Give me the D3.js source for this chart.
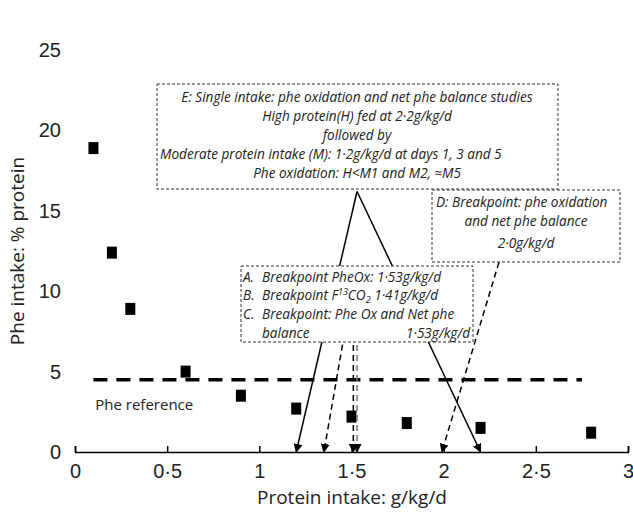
<!DOCTYPE html>
<meta charset="utf-8">
<script src="https://d3js.org/d3.v7.min.js"></script>
<style>
body { margin:0; background:#fff; font-family: "Open Sans", "Liberation Sans", sans-serif; }
.box text { font-style: italic; font-size: 13.6px; fill: #222; }
.axis text { font-size: 20px; }
</style>
<body></body>
<script>
var protein = [0.1, 0.2, 0.3, 0.6, 0.9, 1.2, 1.5, 1.8, 2.2, 2.8];
var pheIntake = [18.9, 12.4, 8.9, 5.0, 3.5, 2.7, 2.2, 1.8, 1.5, 1.2];
var xTicks = [0, 0.5, 1, 1.5, 2, 2.5, 3];
var yTicks = [0, 5, 10, 15, 20, 25];
var pheRef = 4.5;

var width = 633, height = 515;
var svg = d3.select("body").append("svg").attr("width", width).attr("height", height);

var x = d3.scaleLinear().domain([0, 3]).range([75, 628]);
var y = d3.scaleLinear().domain([0, 25]).range([452, 50]);
var fmt = function(d) { return String(d).replace(".", "\u00b7"); };

svg.append("defs").append("marker").attr("id", "arr")
  .attr("viewBox", "0 0 10 10").attr("refX", 9).attr("refY", 5)
  .attr("markerWidth", 6).attr("markerHeight", 6).attr("orient", "auto")
  .append("path").attr("d", "M0,0L10,5L0,10z").attr("fill", "#000");

var gx = svg.append("g").attr("class", "axis").attr("transform", "translate(0," + y(0) + ")")
  .call(d3.axisBottom(x).tickValues(xTicks).tickFormat(fmt).tickSize(-6).tickPadding(12));
var gy = svg.append("g").attr("class", "axis").attr("transform", "translate(" + x(0) + ",0)")
  .call(d3.axisLeft(y).tickValues(yTicks).tickSize(0).tickPadding(14));
svg.selectAll(".axis path, .axis line").attr("stroke", "#000").attr("stroke-width", 1.5);
gy.select("path").remove();
svg.selectAll(".axis text").attr("fill", "#222");

svg.append("text").attr("x", 352).attr("y", 504).attr("text-anchor", "middle")
  .attr("font-size", 19).attr("fill", "#222").text("Protein intake: g/kg/d");
svg.append("text").attr("transform", "translate(24,251) rotate(-90)").attr("text-anchor", "middle")
  .attr("font-size", 19).attr("fill", "#222").text("Phe intake: % protein");

// reference line
svg.append("line").attr("x1", x(0.1)).attr("x2", x(2.75)).attr("y1", y(pheRef)).attr("y2", y(pheRef))
  .attr("stroke", "#000").attr("stroke-width", 3.5).attr("stroke-dasharray", "14,9");
svg.append("text").attr("x", x(0.11)).attr("y", y(pheRef) + 30).attr("font-size", 15).attr("fill", "#222").text("Phe reference");

// points
svg.selectAll("rect.pt").data(protein).enter().append("rect").attr("class", "pt")
  .attr("x", function(d) { return x(d) - 5; })
  .attr("y", function(d, i) { return y(pheIntake[i]) - 6; })
  .attr("width", 10).attr("height", 12).attr("fill", "#000");

// arrows
function arrow(x1, y1, x2, y2, dash, col) {
  svg.append("line").attr("x1", x(x1)).attr("y1", y(y1)).attr("x2", x(x2)).attr("y2", y(y2))
    .attr("stroke", col || "#000").attr("stroke-width", 1.5)
    .attr("stroke-dasharray", dash ? "6,4" : null).attr("marker-end", "url(#arr)");
}
arrow(1.53, 16.2, 1.2, 0, false);
arrow(1.53, 16.2, 2.2, 0, false);
arrow(1.47, 7.9, 1.35, 0, true);
arrow(1.53, 7.9, 1.53, 0, true, "#777");
arrow(1.51, 7.9, 1.51, 0, true);
arrow(2.3, 11.8, 1.99, 0, true);

function box(x0, y0, w, h, lines) {
  var g = svg.append("g").attr("class", "box");
  g.append("rect").attr("x", x0).attr("y", y0).attr("width", w).attr("height", h)
    .attr("fill", "#fff").attr("stroke", "#333").attr("stroke-dasharray", "3,2");
  lines.forEach(function(l) {
    g.append("text").attr("x", l.x).attr("y", l.y).attr("text-anchor", l.a || "start").text(l.t);
  });
  return g;
}
box(157, 84, 401, 105, [
  {x: 357, y: 102, a: "middle", t: "E: Single intake: phe oxidation and net phe balance studies"},
  {x: 357, y: 121, a: "middle", t: "High protein(H) fed at 2\u00b72g/kg/d"},
  {x: 357, y: 140, a: "middle", t: "followed by"},
  {x: 160, y: 159, t: "Moderate protein intake (M): 1\u00b72g/kg/d   at days 1, 3 and 5"},
  {x: 357, y: 178, a: "middle", t: "Phe oxidation: H<M1 and M2, \u2248M5"}
]);
box(432, 190, 188, 72, [
  {x: 436, y: 207, t: "D: Breakpoint: phe oxidation"},
  {x: 526, y: 226, a: "middle", t: "and net phe balance"},
  {x: 526, y: 248, a: "middle", t: "2\u00b70g/kg/d"}
]);
var bc = box(241, 266, 232, 76, [
  {x: 243, y: 282, t: "A."}, {x: 262, y: 282, t: "Breakpoint PheOx: 1\u00b753g/kg/d"},
  {x: 243, y: 300, t: "B."},
  {x: 243, y: 319, t: "C."}, {x: 262, y: 319, t: "Breakpoint: Phe Ox and Net phe"},
  {x: 262, y: 338, t: "balance"}, {x: 470, y: 338, a: "end", t: "1\u00b753g/kg/d"}
]);
var t = bc.append("text").attr("x", 262).attr("y", 300);
t.append("tspan").text("Breakpoint F");
t.append("tspan").attr("dy", -5).attr("font-size", 9).text("13");
t.append("tspan").attr("dy", 5).text("CO");
t.append("tspan").attr("dy", 3).attr("font-size", 9).text("2");
t.append("tspan").attr("dy", -3).text("  1\u00b741g/kg/d");
</script>
